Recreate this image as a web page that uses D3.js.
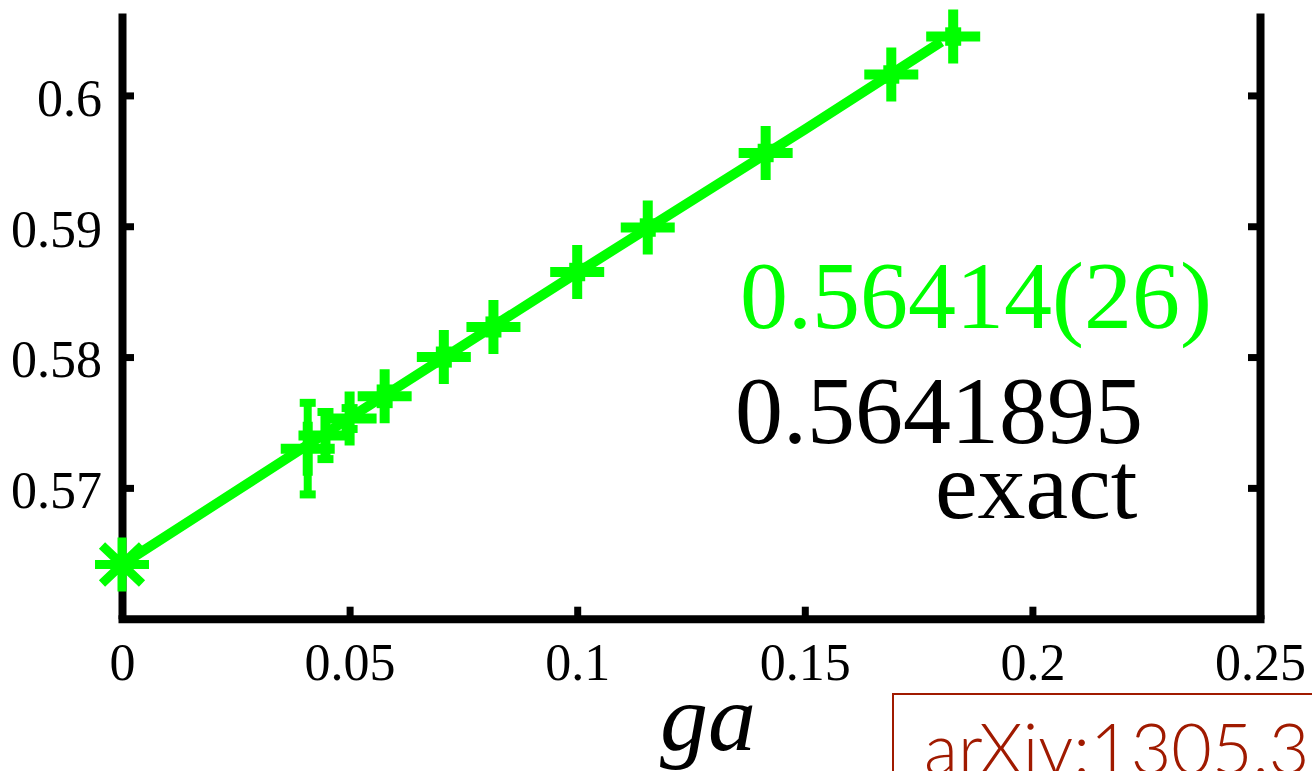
<!DOCTYPE html>
<html>
<head>
<meta charset="utf-8">
<script src="https://cdn.jsdelivr.net/npm/d3@7"></script>
<style>
  html, body { margin: 0; padding: 0; background: #fff; overflow: hidden; }
  svg { display: block; }
</style>
</head>
<body>
<svg id="chart" width="1312" height="771"></svg>
<script>
// Lattice spacing ga and the measured ratio at each spacing
const latticeSpacing = [0.0408, 0.0447, 0.05, 0.0577, 0.0707, 0.0816, 0.1, 0.1155, 0.1414, 0.169, 0.1826];
const ratio          = [0.5730, 0.5740, 0.5753, 0.5770, 0.5800, 0.5823, 0.5865, 0.5899, 0.5956, 0.6016, 0.6045];
const ratioErr       = [0.0035, 0.0018, 0.0008, 0.0006, 0.0005, 0.0005, 0.0004, 0.0004, 0.0004, 0.0004, 0.0004];

// Continuum extrapolation and exact value
const continuumValue = 0.56414;
const continuumErr = 0.00026;
const continuumErrDigits = "26";
const exactValue = 0.5641895;

// Extrapolation curve through the data
const fitGa  = [0, 0.05, 0.1, 0.15, 0.18];
const fitVal = [0.56414, 0.57535, 0.58645, 0.5974, 0.6041];

// Axis ticks
const xTicks = [0, 0.05, 0.1, 0.15, 0.2, 0.25];
const xTickLabels = ["0", "0.05", "0.1", "0.15", "0.2", "0.25"];
const yTicks = [0.57, 0.58, 0.59, 0.6];
const yTickLabels = ["0.57", "0.58", "0.59", "0.6"];

const GREEN = "#00ff00";
const SERIF = "'Liberation Serif', 'Times New Roman', serif";

const svg = d3.select("#chart");
svg.append("rect").attr("width", 1312).attr("height", 771).attr("fill", "#fff");

const x = d3.scaleLinear().domain([0, 0.25]).range([122, 1260]);
const y = d3.scaleLinear().domain([0.56, 0.6063]).range([618.7, 13]);

// ---- axes ----
function styleAxis(g) {
  g.select(".domain").attr("stroke", "#000").attr("stroke-width", 8);
  g.selectAll(".tick line").attr("stroke", "#000").attr("stroke-width", 7);
  g.selectAll(".tick text")
    .attr("fill", "#000")
    .style("font-family", SERIF)
    .style("font-size", "52px");
}

svg.append("g")
  .attr("transform", `translate(${x(0)},0)`)
  .call(d3.axisLeft(y).tickValues(yTicks)
    .tickFormat((d, i) => yTickLabels[i])
    .tickSizeInner(-12).tickSizeOuter(0).tickPadding(20))
  .call(styleAxis)
  .call(g => g.selectAll(".tick text").attr("dy", "0.38em"));

svg.append("g")
  .attr("transform", `translate(${x(0.25)},0)`)
  .call(d3.axisRight(y).tickValues(yTicks).tickFormat("")
    .tickSizeInner(-12).tickSizeOuter(0))
  .call(styleAxis);

svg.append("g")
  .attr("transform", `translate(0,${y(0.56)})`)
  .call(d3.axisBottom(x).tickValues(xTicks)
    .tickFormat((d, i) => xTickLabels[i])
    .tickSizeInner(-12).tickSizeOuter(0).tickPadding(24))
  .call(styleAxis)
  .call(g => g.select(".domain").attr("stroke-linecap", "square"))
  .call(g => g.selectAll(".tick line").filter(d => d === 0 || d === 0.25).remove());

// x-axis title
svg.append("text")
  .attr("x", 708).attr("y", 750)
  .attr("text-anchor", "middle")
  .style("font-family", SERIF)
  .style("font-style", "italic")
  .style("font-size", "96px")
  .text("ga");

// ---- data ----
const pts = latticeSpacing.map((g, i) => ({ g, v: ratio[i], e: ratioErr[i] }));
const plot = svg.append("g");

// error bars
const eb = plot.selectAll("g.eb").data(pts).join("g").attr("class", "eb")
  .attr("stroke", GREEN).attr("stroke-width", 8);
eb.append("line")
  .attr("x1", d => x(d.g)).attr("x2", d => x(d.g))
  .attr("y1", d => y(d.v - d.e)).attr("y2", d => y(d.v + d.e));
eb.append("line")
  .attr("x1", d => x(d.g) - 8).attr("x2", d => x(d.g) + 8)
  .attr("y1", d => y(d.v - d.e)).attr("y2", d => y(d.v - d.e));
eb.append("line")
  .attr("x1", d => x(d.g) - 8).attr("x2", d => x(d.g) + 8)
  .attr("y1", d => y(d.v + d.e)).attr("y2", d => y(d.v + d.e));

// extrapolation curve
plot.append("path")
  .datum(fitGa.map((g, i) => [g, fitVal[i]]))
  .attr("fill", "none")
  .attr("stroke", GREEN)
  .attr("stroke-width", 10)
  .attr("d", d3.line().x(d => x(d[0])).y(d => y(d[1])));

// plus markers
const arm = 27;
plot.selectAll("path.plus").data(pts).join("path").attr("class", "plus")
  .attr("stroke", GREEN).attr("stroke-width", 10).attr("fill", "none")
  .attr("d", d => {
    const cx = x(d.g), cy = y(d.v);
    return `M${cx - arm},${cy}H${cx + arm}M${cx},${cy - arm}V${cy + arm}`;
  });

// continuum point (asterisk) with its error bar
const cx0 = x(0), cy0 = y(continuumValue);
plot.append("line")
  .attr("x1", cx0).attr("x2", cx0)
  .attr("y1", y(continuumValue - continuumErr)).attr("y2", y(continuumValue + continuumErr))
  .attr("stroke", GREEN).attr("stroke-width", 8);
plot.append("path")
  .attr("stroke", GREEN).attr("stroke-width", 9).attr("fill", "none")
  .attr("d", `M${cx0 - arm},${cy0}H${cx0 + arm}M${cx0},${cy0 - arm}V${cy0 + arm}` +
             `M${cx0 - 20},${cy0 - 19}L${cx0 + 20},${cy0 + 19}` +
             `M${cx0 - 20},${cy0 + 19}L${cx0 + 20},${cy0 - 19}`);

// ---- annotations ----
svg.append("text")
  .attr("x", 740).attr("y", 328)
  .attr("fill", GREEN)
  .style("font-family", SERIF).style("font-size", "96px")
  .text(`${continuumValue.toFixed(5)}(${continuumErrDigits})`);

svg.append("text")
  .attr("x", 735).attr("y", 443)
  .attr("fill", "#000")
  .style("font-family", SERIF).style("font-size", "96px")
  .text(exactValue.toFixed(7));

svg.append("text")
  .attr("x", 935).attr("y", 518)
  .attr("fill", "#000")
  .style("font-family", SERIF).style("font-size", "96px")
  .text("exact");

// reference tag
svg.append("rect")
  .attr("x", 893).attr("y", 694).attr("width", 500).attr("height", 200)
  .attr("fill", "#fff").attr("stroke", "#a01a00").attr("stroke-width", 2);
svg.append("text")
  .attr("x", 924).attr("y", 774)
  .attr("fill", "#a01a00")
  .style("font-family", "Lato, 'Open Sans', sans-serif")
  .style("font-weight", 300)
  .style("font-size", "70px")
  .text("arXiv:1305.3");
</script>
</body>
</html>
